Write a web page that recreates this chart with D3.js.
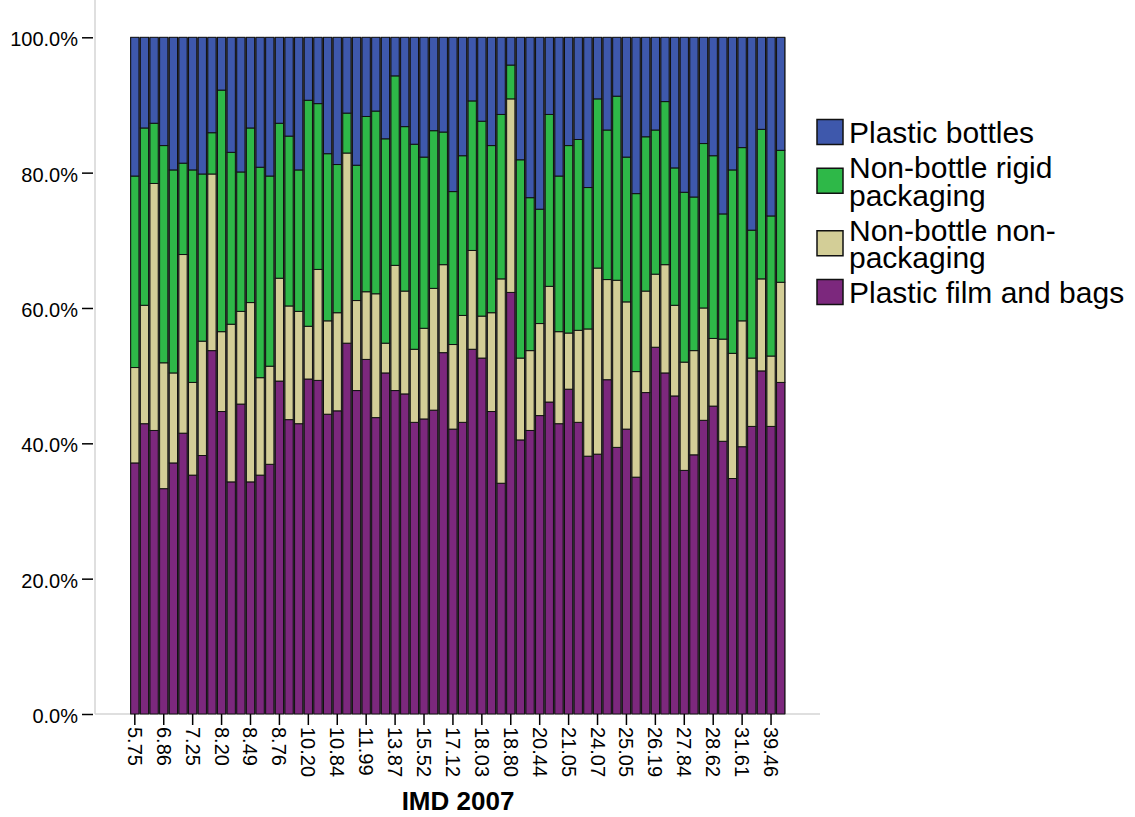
<!DOCTYPE html>
<html>
<head>
<meta charset="utf-8">
<script src="https://cdn.jsdelivr.net/npm/d3@7"></script>
<style>
body { margin: 0; background: #fff; }
text { font-family: "Liberation Sans", Arial, sans-serif; }
</style>
</head>
<body>
<svg id="chart" width="1135" height="817"></svg>
<script>
// IMD 2007 labels shown on the axis (one every 3rd bar)
const tickLabels = ['5.75', '6.86', '7.25', '8.20', '8.49', '8.76', '10.20', '10.84', '11.99', '13.87', '15.52', '17.12',
    '18.03', '18.80', '20.44', '21.05', '24.07', '25.05', '26.19', '27.84', '28.62', '31.61', '39.46']

// share of each bar (%), bottom segment first
const filmBags = [37.1, 42.9, 41.9, 33.3, 37.1, 41.5, 35.3, 38.2, 53.7, 44.7, 34.3, 45.8, 34.3, 35.3, 36.9, 49.2, 43.5,
    42.9, 49.5, 49.3, 44.3, 44.8, 54.8, 47.8, 52.4, 43.8, 50.4, 47.8, 47.3, 43.1, 43.6, 44.9, 53.4, 42.1, 43.1,
    53.9, 52.6, 44.7, 34.1, 62.3, 40.5, 41.9, 44.1, 46.1, 42.9, 48.0, 43.1, 38.1, 38.4, 49.4, 39.4, 42.1, 35.0,
    47.5, 54.2, 50.4, 47.0, 36.0, 38.3, 43.4, 45.5, 40.3, 34.8, 39.5, 42.5, 50.7, 42.5, 49.0]
const nonPackaging = [14.1, 17.5, 36.5, 18.6, 13.3, 26.4, 13.7, 16.9, 26.1, 11.8, 23.3, 13.7, 26.5, 14.4, 14.5, 15.2, 16.8,
    16.6, 7.8, 16.4, 13.8, 14.5, 28.1, 13.3, 10.0, 18.3, 4.4, 18.5, 15.2, 10.8, 13.4, 18.0, 13.0, 12.5, 15.8,
    14.6, 6.2, 14.6, 30.2, 28.6, 12.1, 11.8, 13.6, 17.1, 13.6, 8.3, 13.6, 18.8, 27.5, 14.8, 24.7, 18.8, 15.6,
    15.0, 10.8, 16.0, 13.4, 16.0, 15.4, 16.6, 10.0, 15.1, 18.5, 18.6, 10.1, 13.6, 10.4, 14.8]
const rigidPackaging = [28.3, 26.2, 8.9, 32.1, 30.0, 13.5, 31.4, 24.7, 6.1, 35.7, 25.4, 20.6, 25.8, 31.1, 28.1, 22.9, 25.1,
    20.9, 33.4, 24.5, 24.7, 21.9, 5.9, 20.0, 25.9, 27.0, 30.2, 28.0, 24.3, 30.3, 25.3, 23.3, 19.6, 22.6, 23.6,
    22.1, 28.8, 24.7, 24.3, 5.0, 29.3, 22.6, 16.9, 25.4, 23.0, 27.7, 28.2, 20.9, 25.0, 22.1, 27.2, 21.4, 26.3,
    22.8, 21.3, 24.1, 20.3, 25.1, 22.7, 24.3, 27.0, 18.5, 27.1, 25.6, 18.9, 22.1, 20.7, 19.5]
const bottles = [20.5, 13.4, 12.7, 16.0, 19.6, 18.6, 19.6, 20.2, 14.1, 7.8, 17.0, 19.9, 13.4, 19.2, 20.5, 12.7, 14.6,
    19.6, 9.3, 9.8, 17.2, 18.8, 11.2, 18.9, 11.7, 10.9, 15.0, 5.7, 13.2, 15.8, 17.7, 13.8, 14.0, 22.8, 17.5,
    9.4, 12.4, 16.0, 11.4, 4.1, 18.1, 23.7, 25.4, 11.4, 20.5, 16.0, 15.1, 22.2, 9.1, 13.7, 8.7, 17.7, 23.1,
    14.7, 13.7, 9.5, 19.3, 22.9, 23.6, 15.7, 17.5, 26.1, 19.6, 16.3, 28.5, 13.6, 26.4, 16.7]

const keys = ['film', 'nonpack', 'rigid', 'bottles']
const colors = { film: '#7C287D', nonpack: '#D3CE97', rigid: '#2EB848', bottles: '#3E58AC' }
const legendItems = [
    { key: 'bottles', lines: ['Plastic bottles'] },
    { key: 'rigid', lines: ['Non-bottle rigid', 'packaging'] },
    { key: 'nonpack', lines: ['Non-bottle non-', 'packaging'] },
    { key: 'film', lines: ['Plastic film and bags'] }
]

const svg = d3.select('#chart')

const rows = filmBags.map((v, i) => ({
    idx: i, film: v, nonpack: nonPackaging[i], rigid: rigidPackaging[i], bottles: bottles[i]
}))

const x = d3.scaleBand()
    .domain(rows.map(d => d.idx))
    .range([130, 785.5])
    .padding(0)

const y = d3.scaleLinear()
    .domain([0, 1])
    .range([714, 37.3])

const stacked = d3.stack().keys(keys).offset(d3.stackOffsetExpand)(rows)

// axis frame lines (light grey)
svg.append('line')
    .attr('x1', 95).attr('x2', 95).attr('y1', 0).attr('y2', 714)
    .attr('stroke', '#d4d4d4').attr('stroke-width', 1.5)
svg.append('line')
    .attr('x1', 95).attr('x2', 820).attr('y1', 714).attr('y2', 714)
    .attr('stroke', '#d4d4d4').attr('stroke-width', 1.5)

// dark backing so the thin gaps between bars look like the original
svg.append('rect')
    .attr('x', x.range()[0]).attr('y', y(1))
    .attr('width', x.range()[1] - x.range()[0]).attr('height', y(0) - y(1))
    .attr('fill', '#4a4a4a')

const layer = svg.append('g').attr('class', 'bars')
    .selectAll('g')
    .data(stacked)
    .join('g')
    .attr('fill', d => colors[d.key])

layer.selectAll('rect')
    .data(d => d)
    .join('rect')
    .attr('x', d => x(d.data.idx) + 0.7)
    .attr('width', x.bandwidth() - 1.4)
    .attr('y', d => y(d[1]))
    .attr('height', d => y(d[0]) - y(d[1]))
    .attr('stroke', '#111')
    .attr('stroke-width', 1)

// y axis
const yAxis = svg.append('g')
    .attr('transform', 'translate(93,0)')
    .call(d3.axisLeft(y).tickValues([0, 0.2, 0.4, 0.6, 0.8, 1]).tickFormat(d3.format('.1%')).tickSize(11).tickPadding(4))
yAxis.select('.domain').remove()
yAxis.selectAll('line').attr('stroke', '#000').attr('stroke-width', 1.5)
yAxis.selectAll('text')
    .attr('font-size', 20)
    .attr('fill', '#000')
    .attr('dy', '0.42em')

// x axis
const xAxis = svg.append('g')
    .attr('transform', 'translate(0,714)')
    .call(d3.axisBottom(x)
        .tickValues(rows.filter(d => d.idx % 3 == 0).map(d => d.idx))
        .tickFormat(i => tickLabels[i / 3])
        .tickSize(11))
xAxis.select('.domain').remove()
xAxis.selectAll('line').attr('stroke', '#000').attr('stroke-width', 1.5)
xAxis.selectAll('text')
    .attr('font-size', 20)
    .attr('fill', '#000')
    .attr('transform', 'rotate(90)')
    .attr('x', 13)
    .attr('y', 0)
    .attr('dy', '0.35em')
    .style('text-anchor', 'start')

// axis title
svg.append('text')
    .attr('x', 458)
    .attr('y', 810)
    .attr('text-anchor', 'middle')
    .attr('font-size', 26)
    .attr('font-weight', 'bold')
    .text('IMD 2007')

// legend
const legend = svg.append('g').attr('class', 'legend')
let baseline = 143
legendItems.forEach((item, k) => {
    if (k > 0) baseline += 35
    const first = baseline
    const last = first + (item.lines.length - 1) * 27.5
    const mid = (first - 22 + last) / 2
    legend.append('rect')
        .attr('x', 817).attr('y', mid - 12.5)
        .attr('width', 26).attr('height', 25)
        .attr('fill', colors[item.key])
        .attr('stroke', '#111').attr('stroke-width', 1.5)
    const t = legend.append('text')
        .attr('x', 849).attr('y', first)
        .attr('font-size', 30)
        .attr('fill', '#000')
    item.lines.forEach((line, j) => {
        t.append('tspan').attr('x', 849).attr('y', first + j * 27.5).text(line)
    })
    baseline = last
})
</script>
</body>
</html>
